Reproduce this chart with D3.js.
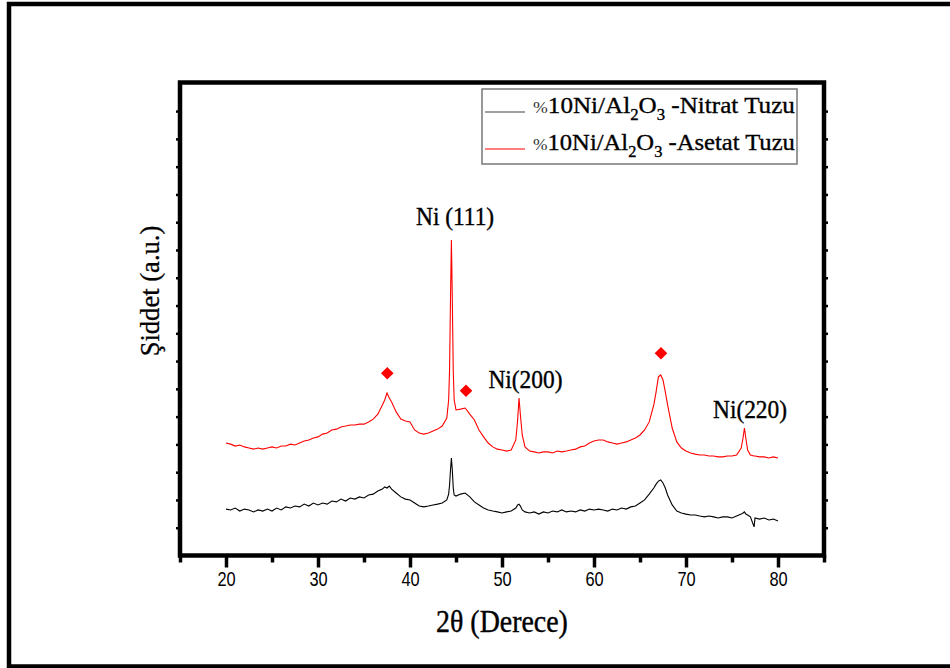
<!DOCTYPE html>
<html>
<head>
<meta charset="utf-8">
<script src="https://cdn.jsdelivr.net/npm/d3@7"></script>
<style>
  html, body { margin: 0; padding: 0; background: #fff; }
  svg { display: block; }
</style>
</head>
<body>
<svg id="chart" width="950" height="668"></svg>
<script>
// ---------------- DATA ----------------
const twoTheta = [20,20.5,21,21.5,22,22.5,23,23.5,24,24.5,25,25.5,26,26.5,27,27.5,28,28.5,29,29.5,30,30.5,31,31.5,32,32.5,33,33.5,34,34.5,35,35.5,36,36.5,37,37.25,37.5,37.75,38,38.5,39,39.5,40,40.5,41,41.5,42,42.5,43,43.5,44,44.2,44.3,44.4,44.5,44.6,44.7,44.8,45,45.5,46,46.5,47,47.5,48,48.5,49,49.5,50,50.5,51,51.5,51.7,51.85,52,52.2,52.5,53,53.5,54,54.5,55,55.5,56,56.5,57,57.5,58,58.5,59,59.5,60,60.5,61,61.5,62,62.5,63,63.5,64,64.5,65,65.5,66,66.5,66.75,67,67.25,67.5,67.75,68,68.5,69,69.5,70,70.5,71,71.5,72,72.5,73,73.5,74,74.5,75,75.5,76,76.2,76.35,76.5,76.7,77,77.4,77.5,78,78.5,79,79.5,80];

// %10Ni/Al2O3 - Nitrat Tuzu (black)
const nitrat = [167,164,171,160,167,164,157,164,160,167,160,171,164,175,171,178,175,185,178,189,182,189,185,196,193,203,196,207,203,211,207,218,221,232,239,247,243,250,239,225,211,203,200,189,178,175,178,182,185,189,200,221,254,308,351,308,243,218,214,221,225,211,193,182,171,164,160,157,153,157,160,171,182,185,178,164,157,153,157,149,157,153,160,157,164,157,160,157,164,160,167,164,167,164,160,167,164,171,167,175,178,189,200,221,243,257,268,272,261,243,218,182,160,153,149,146,146,142,139,142,139,135,139,139,135,142,149,153,157,149,146,139,103,135,131,135,128,131,124];

// %10Ni/Al2O3 - Asetat Tuzu (red)
const asetat = [405,401,394,398,391,387,383,387,383,387,391,387,394,394,401,398,405,412,416,423,427,437,441,452,455,463,466,470,470,473,473,481,491,509,542,560,585,567,553,517,491,484,481,452,441,437,441,448,455,466,495,560,668,920,1136,920,668,560,524,527,531,509,488,452,427,405,391,383,380,376,380,416,488,567,506,434,391,376,373,369,373,373,369,376,373,376,380,383,391,394,405,412,416,416,409,405,401,405,409,416,423,434,452,481,542,589,643,650,632,589,542,459,409,387,376,369,365,362,362,358,358,355,355,358,358,362,387,423,459,423,380,362,358,358,355,355,351,355,351];

const seriesNames = ["%10Ni/Al2O3 -Nitrat Tuzu", "%10Ni/Al2O3 -Asetat Tuzu"];
const seriesColors = ["#000000", "#ff0000"];

const xMajorTicks = [20, 30, 40, 50, 60, 70, 80];
const xMinorTicks = [15, 25, 35, 45, 55, 65, 75, 85];
const yTicks = [100,200,300,400,500,600,700,800,900,1000,1100,1200,1300,1400,1500,1600];

// peak markers (diamonds) and labels
const diamondX = [37.53, 46.09, 67.28];
const diamondY = [656, 593, 728];
const peakLabels = ["Ni (111)", "Ni(200)", "Ni(220)"];
const peakLabelX = [44.9, 52.55, 76.96];
const peakLabelY = [1190, 603, 495];

// ---------------- CHART ----------------
const svg = d3.select("#chart");
const L = 180, R = 824, T = 82.5, B = 555.5;
const x = d3.scaleLinear().domain([15, 85]).range([L, R]);
const y = d3.scaleLinear().domain([0, 1703]).range([B, T]);

// outer frame (top, left, bottom)
svg.append("path")
  .attr("d", "M950,4 H9 V666.5 H950")
  .attr("fill", "none").attr("stroke", "#000").attr("stroke-width", 4.5);

const serif = "'Liberation Serif','Times New Roman',serif";
const sans = "'Liberation Sans',Arial,sans-serif";

// helper: squeeze a text horizontally around its anchor
function squeeze(sel, k) {
  sel.each(function () {
    const t = d3.select(this);
    const xx = +t.attr("x") || 0, yy = +t.attr("y") || 0;
    t.attr("transform", `translate(${xx},${yy}) scale(${k},1) translate(${-xx},${-yy})`);
  });
}

// curves
const line = d3.line().x((d, i) => x(twoTheta[i])).y(d => y(d));
svg.append("path").datum(nitrat).attr("d", line)
  .attr("fill", "none").attr("stroke", seriesColors[0]).attr("stroke-width", 1.1);
svg.append("path").datum(asetat).attr("d", line)
  .attr("fill", "none").attr("stroke", seriesColors[1]).attr("stroke-width", 1.1);

// x axis
const xAxis = svg.append("g").attr("transform", `translate(0,${B})`)
  .call(d3.axisBottom(x).tickValues(xMajorTicks).tickSize(12).tickSizeOuter(0).tickPadding(4).tickFormat(d3.format("d")));
xAxis.select(".domain").remove();
xAxis.selectAll(".tick line").attr("stroke-width", 3.5);
xAxis.selectAll("text").attr("font-family", sans).attr("font-size", 20).attr("fill", "#000")
  .attr("transform", "scale(0.82,1)");
const xMinor = svg.append("g").attr("transform", `translate(0,${B})`)
  .call(d3.axisBottom(x).tickValues(xMinorTicks).tickSize(7).tickSizeOuter(0).tickFormat(""));
xMinor.select(".domain").remove();
xMinor.selectAll(".tick line").attr("stroke-width", 3.5);

// y axes ticks (left & right), no labels
const yl = svg.append("g").attr("transform", `translate(${L},0)`)
  .call(d3.axisLeft(y).tickValues(yTicks).tickSize(4).tickSizeOuter(0).tickFormat(""));
yl.select(".domain").remove();
yl.selectAll(".tick line").attr("stroke-width", 2.5);
const yr = svg.append("g").attr("transform", `translate(${R},0)`)
  .call(d3.axisRight(y).tickValues(yTicks).tickSize(4).tickSizeOuter(0).tickFormat(""));
yr.select(".domain").remove();
yr.selectAll(".tick line").attr("stroke-width", 2.5);

// plot frame
svg.append("rect").attr("x", L).attr("y", T).attr("width", R - L).attr("height", B - T)
  .attr("fill", "none").attr("stroke", "#000").attr("stroke-width", 4.5);

// axis titles
const xt = svg.append("text").attr("x", (L + R) / 2).attr("y", 632)
  .attr("text-anchor", "middle").attr("font-family", serif).attr("font-size", 31)
  .attr("stroke", "#000").attr("stroke-width", 0.4)
  .text("2θ (Derece)");
squeeze(xt, 0.9);
svg.append("text").attr("transform", "translate(159,291) rotate(-90) scale(0.95,1)")
  .attr("text-anchor", "middle").attr("font-family", serif).attr("font-size", 28)
  .attr("stroke", "#000").attr("stroke-width", 0.3)
  .text("Şiddet (a.u.)");

// diamonds
const diamondSym = d3.symbol().type(d3.symbolDiamond2 || d3.symbolDiamond).size(100);
svg.append("g").selectAll("path").data(diamondX).join("path")
  .attr("transform", (d, i) => `translate(${x(d)},${y(diamondY[i])})`)
  .attr("d", diamondSym).attr("fill", "#ff0000");

// peak labels
const pl = svg.append("g").selectAll("text").data(peakLabels).join("text")
  .attr("x", (d, i) => x(peakLabelX[i])).attr("y", (d, i) => y(peakLabelY[i]))
  .attr("text-anchor", "middle").attr("font-family", serif).attr("font-size", 26)
  .attr("stroke", "#000").attr("stroke-width", 0.4)
  .text(d => d);
squeeze(pl, 0.9);

// legend
const lg = svg.append("g");
lg.append("rect").attr("x", 482).attr("y", 89).attr("width", 315).attr("height", 75)
  .attr("fill", "#fff").attr("stroke", "#777").attr("stroke-width", 1.5);
const rowY = [113, 150];
seriesNames.forEach((name, i) => {
  lg.append("line").attr("x1", 485).attr("x2", 525).attr("y1", rowY[i] - 1).attr("y2", rowY[i] - 1)
    .attr("stroke", i === 0 ? "#444" : seriesColors[1]).attr("stroke-width", 1.2);
  const g = lg.append("g");
  const t = g.append("text").attr("x", 0).attr("y", 0).attr("font-family", serif).attr("font-size", 24)
    .attr("fill", "#000").attr("stroke", "#000").attr("stroke-width", 0.35);
  const label = name.split(" -")[1];
  t.append("tspan").attr("font-size", 17).attr("fill", "#333").attr("stroke-width", 0).text("%");
  t.append("tspan").text("10Ni/Al");
  t.append("tspan").attr("font-size", 16).attr("dy", 7).text("2");
  t.append("tspan").attr("dy", -7).text("O");
  t.append("tspan").attr("font-size", 16).attr("dy", 7).text("3");
  t.append("tspan").attr("dy", -7).text(" -" + label);
  const w = t.node().getBBox().width;
  const k = 262 / w;
  g.attr("transform", `translate(533,${rowY[i]}) scale(${k},1)`);
});
</script>
</body>
</html>
